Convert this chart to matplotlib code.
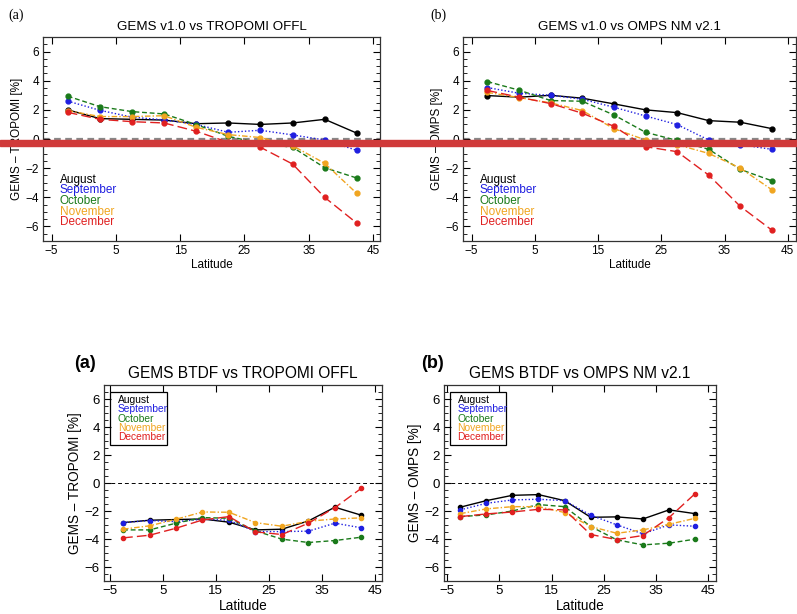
import numpy as np
import matplotlib
matplotlib.use("Agg")
import matplotlib.pyplot as plt
from matplotlib.patches import Rectangle
from matplotlib.ticker import MultipleLocator

plt.rcParams['font.family'] = ['Liberation Sans', 'DejaVu Sans']

lats = [-2.5, 2.5, 7.5, 12.5, 17.5, 22.5, 27.5, 32.5, 37.5, 42.5]
months = ['August', 'September', 'October', 'November', 'December']
colors = ['black', '#1f1fe0', '#1a7a1a', '#f0a520', '#e02020']
styles = ['-', (0, (1, 1.5)), (0, (3.5, 2)), (0, (4, 1.5, 1, 1.5)), (0, (7, 3))]

# GEMS v1.0 vs TROPOMI OFFL
v10_tropomi = [
    [2.0, 1.4, 1.35, 1.3, 1.05, 1.1, 1.0, 1.1, 1.35, 0.4],
    [2.6, 1.97, 1.5, 1.31, 1.0, 0.46, 0.6, 0.28, -0.07, -0.78],
    [2.94, 2.22, 1.88, 1.72, 0.99, 0.18, -0.3, -0.57, -1.97, -2.68],
    [1.95, 1.54, 1.54, 1.6, 0.8, 0.3, 0.1, -0.46, -1.67, -3.74],
    [1.83, 1.35, 1.19, 1.1, 0.53, -0.23, -0.57, -1.72, -4.01, -5.78],
]
# GEMS v1.0 vs OMPS NM v2.1
v10_omps = [
    [2.98, 2.87, 3.0, 2.8, 2.41, 2.0, 1.81, 1.26, 1.15, 0.71],
    [3.53, 3.14, 3.0, 2.73, 2.18, 1.58, 0.99, -0.07, -0.39, -0.71],
    [3.94, 3.35, 2.64, 2.59, 1.65, 0.46, -0.1, -0.71, -2.09, -2.87],
    [3.2, 2.84, 2.48, 1.95, 0.71, -0.07, -0.39, -0.99, -2.0, -3.49],
    [3.33, 2.87, 2.43, 1.77, 0.87, -0.53, -0.87, -2.48, -4.63, -6.26],
]
# GEMS BTDF vs TROPOMI OFFL
btdf_tropomi = [
    [-2.83, -2.66, -2.61, -2.57, -2.8, -3.35, -3.3, -2.71, -1.73, -2.3],
    [-2.83, -2.68, -2.76, -2.59, -2.66, -3.47, -3.47, -3.44, -2.87, -3.2],
    [-3.35, -3.35, -2.87, -2.47, -2.52, -3.42, -4.01, -4.25, -4.11, -3.87],
    [-3.3, -3.06, -2.59, -2.07, -2.09, -2.83, -3.09, -2.73, -2.57, -2.49],
    [-3.92, -3.73, -3.23, -2.64, -2.4, -3.49, -3.68, -2.87, -1.76, -0.38],
]
# GEMS BTDF vs OMPS NM v2.1
btdf_omps = [
    [-1.73, -1.26, -0.88, -0.83, -1.26, -2.45, -2.42, -2.57, -1.92, -2.19],
    [-1.92, -1.45, -1.21, -1.16, -1.26, -2.3, -2.99, -3.63, -2.99, -3.09],
    [-2.4, -2.28, -2.0, -1.54, -1.69, -3.11, -4.06, -4.42, -4.3, -4.01],
    [-2.19, -1.85, -1.69, -1.69, -2.11, -3.11, -3.59, -3.35, -2.95, -2.52],
    [-2.4, -2.21, -2.07, -1.88, -1.92, -3.68, -4.04, -3.75, -2.47, -0.76],
]

W, H = 797, 614
fig = plt.figure(figsize=(W / 100, H / 100), dpi=100)


def ax_at(left, top, right, bottom):
    return fig.add_axes([left / W, 1 - bottom / H, (right - left) / W, (bottom - top) / H])


def panel(ax, data, title, ylabel, xlim, boxed):
    fs = 9.5 if boxed else 8.5
    for vals, c, ls in zip(data, colors, styles):
        ax.plot(lats, vals, color=c, linestyle=ls, lw=1.0, marker='o',
                ms=3.0 if boxed else 3.5, mec=c, mfc=c)
    if boxed:
        ax.axhline(0, color='black', lw=0.7, ls=(0, (4, 3)), zorder=0)
    else:
        ax.axhline(0, color='#888888', lw=1.6, ls=(0, (3, 2)), zorder=0)
    ax.set_xlim(*xlim)
    ax.set_ylim(-7, 7)
    ax.set_xticks([-5, 5, 15, 25, 35, 45])
    ax.set_yticks([-6, -4, -2, 0, 2, 4, 6])
    ax.set_yticklabels(['\u22126', '\u22124', '\u22122', '0', '2', '4', '6'])
    ax.set_xticklabels(['\u22125', '5', '15', '25', '35', '45'])
    ax.yaxis.set_minor_locator(MultipleLocator(0.5))
    ax.tick_params(which='both', direction='in', top=True, right=True,
                   labelsize=fs, pad=3)
    ax.tick_params(which='major', length=5)
    ax.tick_params(which='minor', length=3)
    for s in ax.spines.values():
        s.set_linewidth(0.9)
        s.set_color('#333333')
    ax.set_title(title, fontsize=11.2 if boxed else 9.6, pad=5)
    ax.set_xlabel('Latitude', fontsize=9.8 if boxed else 8.5, labelpad=1)
    ax.set_ylabel(ylabel, fontsize=9.8 if boxed else 8.5, labelpad=2)
    if boxed:
        ax.add_patch(Rectangle((0.022, 0.694), 0.205, 0.27, transform=ax.transAxes,
                               fill=False, ec='black', lw=0.9))
        x0, y0, dy, lfs = 0.05, 0.925, 0.048, 7.4
    else:
        x0, y0, dy, lfs = 0.05, 0.30, 0.052, 8.5
    for i, (m, c) in enumerate(zip(months, colors)):
        ax.text(x0, y0 - i * dy, m, color=c, fontsize=lfs,
                transform=ax.transAxes, va='center', ha='left')


ax1 = ax_at(43, 37, 380, 241)
panel(ax1, v10_tropomi, 'GEMS v1.0 vs TROPOMI OFFL', 'GEMS \u2013 TROPOMI [%]',
      (-6.35, 46.1), False)
ax2 = ax_at(463, 37, 796, 241)
panel(ax2, v10_omps, 'GEMS v1.0 vs OMPS NM v2.1', 'GEMS \u2013 OMPS [%]',
      (-6.37, 46.3), False)
ax3 = ax_at(104, 385, 382, 581)
panel(ax3, btdf_tropomi, 'GEMS BTDF vs TROPOMI OFFL', 'GEMS \u2013 TROPOMI [%]',
      (-6.1, 46.4), True)
ax4 = ax_at(444, 385, 716, 581)
panel(ax4, btdf_omps, 'GEMS BTDF vs OMPS NM v2.1', 'GEMS \u2013 OMPS [%]',
      (-5.6, 46.5), True)

fig.text(8 / W, 1 - 15 / H, '(a)', family='Liberation Serif', fontsize=10, va='center')
fig.text(430 / W, 1 - 15 / H, '(b)', family='Liberation Serif', fontsize=10, va='center')
fig.text(74 / W, 1 - 363 / H, '(a)', fontsize=13, fontweight='bold', va='center')
fig.text(421 / W, 1 - 363 / H, '(b)', fontsize=13, fontweight='bold', va='center')

# red band across the top panels
fig.patches.append(Rectangle((0, 1 - 145.5 / H), 1, 5.5 / H, transform=fig.transFigure,
                             color='#d03a3a', zorder=10))

fig.savefig('out.png', dpi=100)
